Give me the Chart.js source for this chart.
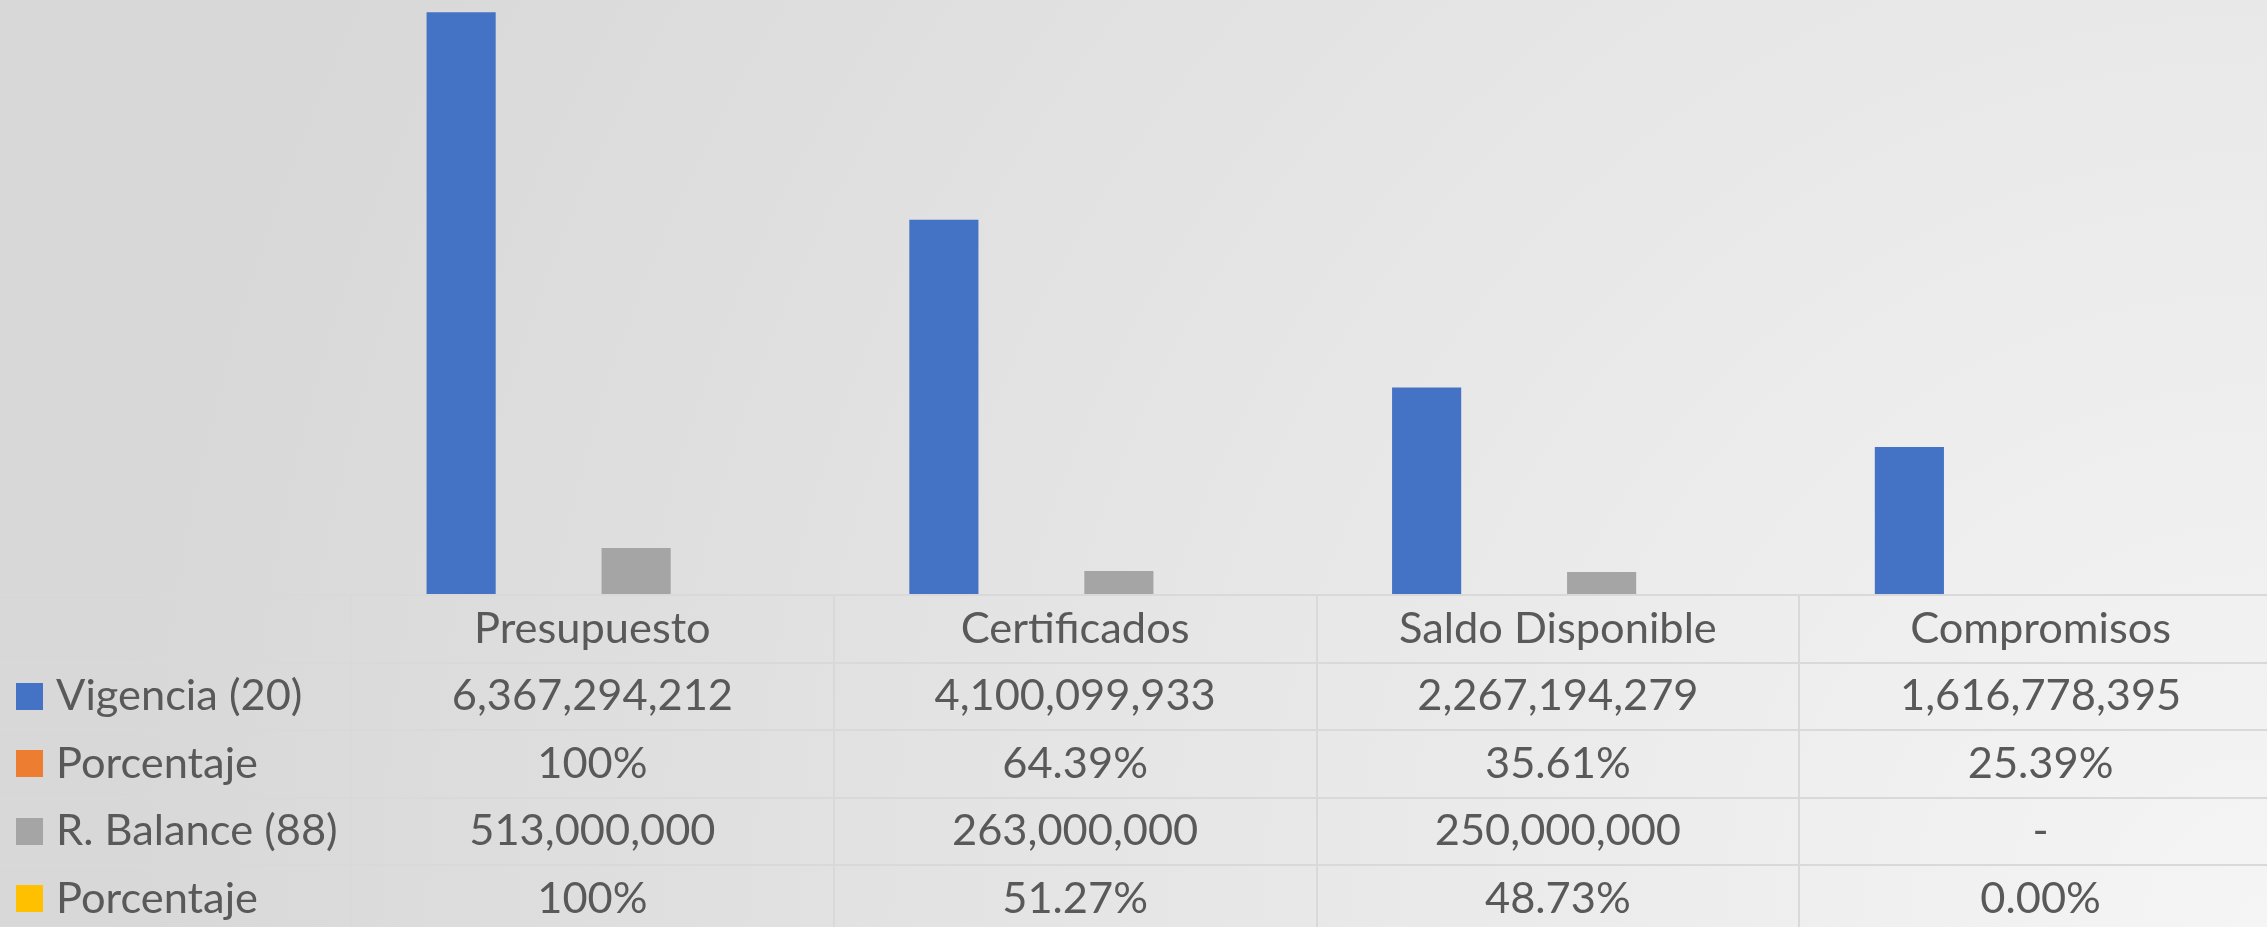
<!DOCTYPE html>
<html>
<head>
<meta charset="utf-8">
<script src="https://cdn.jsdelivr.net/npm/chart.js@4/dist/chart.umd.min.js"></script>
<style>
  html, body { margin: 0; padding: 0; overflow: hidden; background: #d9d9d9; }
  #wrap { width: 2267px; height: 927px; position: relative; overflow: hidden; }
  canvas { display: block; }
</style>
</head>
<body>
<div id="wrap"><canvas id="c" width="2282" height="927"></canvas></div>
<script>
// ---- data ----
const categories = ['Presupuesto', 'Certificados', 'Saldo Disponible', 'Compromisos'];
const seriesNames = ['Vigencia (20)', 'Porcentaje', 'R. Balance (88)', 'Porcentaje'];
const vigencia = [6367294212, 4100099933, 2267194279, 1616778395];
const pctVigencia = [1.00, 0.6439, 0.3561, 0.2539];
const pctVigenciaLabels = ['100%', '64.39%', '35.61%', '25.39%'];
const balance = [513000000, 263000000, 250000000, 0];
const pctBalance = [1.00, 0.5127, 0.4873, 0.00];
const pctBalanceLabels = ['100%', '51.27%', '48.73%', '0.00%'];
const yMax = 6500000000;

// ---- styles ----
const colors = ['#4472c4', '#ed7d31', '#a5a5a5', '#ffc000'];
const textColor = '#595959';
const lineColor = '#d9d9d9';
const FONT_FAMILY = 'Lato, "Open Sans", sans-serif';
const ROW_H = 67.5;
const AXIS_H = 332;
const VIEW_W = 2267;

// font size chosen so that the widest number matches the reference width
const mctx = document.createElement('canvas').getContext('2d');
mctx.font = '100px ' + FONT_FAMILY;
const FS = Math.round(100 * 281 / mctx.measureText('6,367,294,212').width * 10) / 10;
const LH = 1.2;

function fmtNum(v) { return v === 0 ? '-' : v.toLocaleString('en-US'); }
const tableRows = [
  vigencia.map(fmtNum),
  pctVigenciaLabels,
  balance.map(fmtNum),
  pctBalanceLabels
];

const bgPlugin = {
  id: 'bg',
  beforeDraw(chart) {
    const ctx = chart.ctx, w = chart.width, h = chart.height;
    const g = ctx.createRadialGradient(VIEW_W, h, 0, VIEW_W, h, 2150);
    g.addColorStop(0, '#f5f5f5');
    g.addColorStop(1, '#d8d8d8');
    ctx.save();
    ctx.fillStyle = g;
    ctx.fillRect(0, 0, w, h);
    ctx.restore();
  }
};

const tablePlugin = {
  id: 'datatable',
  afterDraw(chart) {
    const ctx = chart.ctx;
    const xs = chart.scales.x;
    const top = chart.chartArea.bottom;
    const n = chart.data.labels.length;
    const colW = xs.width / n;
    ctx.save();
    ctx.strokeStyle = lineColor;
    ctx.lineWidth = 2;
    for (let k = 0; k <= 5; k++) {
      const y = Math.round(top + k * ROW_H);
      ctx.beginPath();
      ctx.moveTo(0, y);
      ctx.lineTo(chart.width, y);
      ctx.stroke();
    }
    for (let i = 0; i <= n; i++) {
      const x = Math.round(xs.left + i * colW);
      ctx.beginPath();
      ctx.moveTo(x, top);
      ctx.lineTo(x, top + 5 * ROW_H);
      ctx.stroke();
    }
    ctx.font = FS + 'px ' + FONT_FAMILY;
    ctx.textBaseline = 'middle';
    chart.data.datasets.forEach((ds, r) => {
      const yc = top + (r + 1.5) * ROW_H;
      ctx.fillStyle = ds.backgroundColor;
      ctx.fillRect(16, Math.round(yc - 13.5), 27, 27);
      ctx.fillStyle = textColor;
      ctx.textAlign = 'left';
      ctx.fillText(ds.label, 56, yc);
      ctx.textAlign = 'center';
      tableRows[r].forEach((t, i) => {
        ctx.fillText(t, xs.getPixelForValue(i), yc);
      });
    });
    ctx.restore();
  }
};

new Chart(document.getElementById('c'), {
  type: 'bar',
  data: {
    labels: categories,
    datasets: [
      { label: seriesNames[0], data: vigencia, backgroundColor: colors[0] },
      { label: seriesNames[1], data: pctVigencia, backgroundColor: colors[1] },
      { label: seriesNames[2], data: balance, backgroundColor: colors[2] },
      { label: seriesNames[3], data: pctBalance, backgroundColor: colors[3] }
    ]
  },
  options: {
    responsive: false,
    animation: false,
    devicePixelRatio: 1,
    categoryPercentage: 0.725,
    barPercentage: 0.79,
    layout: { padding: { left: 351, right: 0, top: 0, bottom: 0 } },
    plugins: { legend: { display: false }, tooltip: { enabled: false } },
    scales: {
      x: {
        grid: { display: false, drawTicks: false },
        border: { display: false },
        ticks: {
          color: textColor,
          font: { family: FONT_FAMILY, size: FS, lineHeight: LH },
          padding: ROW_H / 2 - FS * LH / 2,
          maxRotation: 0,
          autoSkip: false
        },
        afterFit(scale) { scale.height = AXIS_H; }
      },
      y: {
        display: false,
        min: 0,
        max: yMax
      }
    }
  },
  plugins: [bgPlugin, tablePlugin]
});
</script>
</body>
</html>
